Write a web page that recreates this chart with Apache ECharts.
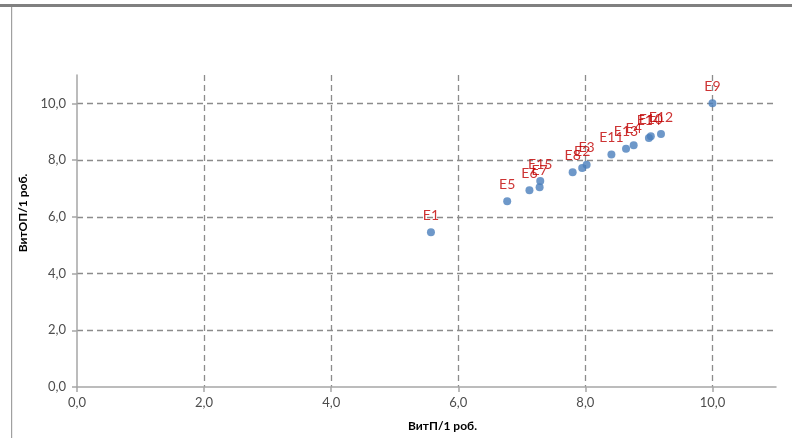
<!DOCTYPE html>
<html>
<head>
<meta charset="utf-8">
<script src="https://cdn.jsdelivr.net/npm/echarts@6/dist/echarts.min.js"></script>
<style>
html,body{margin:0;padding:0;background:#fff;}
#chart{width:792px;height:438px;}
</style>
</head>
<body>
<div id="chart"></div>
<script>
var names = ['E1','E2','E3','E4','E5','E6','E7','E8','E9','E10','E11','E12','E13','E14','E15'];
var xValues = [5.57, 7.95, 8.02, 8.76, 6.77, 7.12, 7.28, 7.80, 10.0, 9.03, 8.41, 9.19, 8.64, 9.00, 7.29];
var yValues = [5.46, 7.72, 7.84, 8.52, 6.55, 6.94, 7.04, 7.57, 10.0, 8.84, 8.20, 8.92, 8.40, 8.78, 7.26];
var xTicks = [0, 2, 4, 6, 8, 10];
var yTicks = [0, 2, 4, 6, 8, 10];
var xTitle = 'ВитП/1 роб.';
var yTitle = 'ВитОП/1 роб.';

var points = names.map(function (n, i) { return { name: n, value: [xValues[i], yValues[i]] }; });
var fmt = function (v) { return v.toFixed(1).replace('.', ','); };
var font = 'Lato, "Open Sans", sans-serif';
var gridLine = { show: true, showMinLine: false, lineStyle: { color: '#8c8c8c', type: [6, 4], width: 1.3 } };
var axisLineStyle = { show: true, lineStyle: { color: '#a6a6a6', width: 1.5 } };

var chart = echarts.init(document.getElementById('chart'), null, { renderer: 'canvas' });
chart.setOption({
  animation: false,
  backgroundColor: '#ffffff',
  grid: { left: 77, right: 16, top: 75, bottom: 51, containLabel: false },
  xAxis: {
    type: 'value', min: 0, max: 11, interval: 2,
    name: xTitle, nameLocation: 'middle', nameGap: 33,
    nameTextStyle: { fontFamily: font, fontSize: 12, fontWeight: 'bold', color: '#000', padding: [0, 0, 0, 32] },
    axisLine: axisLineStyle,
    axisTick: { show: true, length: 5, customValues: xTicks, lineStyle: { color: '#a6a6a6', width: 1.5 } },
    axisLabel: { customValues: xTicks, formatter: fmt, fontFamily: font, fontSize: 13, color: '#4d4d4d', margin: 9 },
    splitLine: gridLine
  },
  yAxis: {
    type: 'value', min: 0, max: 11, interval: 2,
    name: yTitle, nameLocation: 'middle', nameGap: 42,
    nameTextStyle: { fontFamily: font, fontSize: 12, fontWeight: 'bold', color: '#000', padding: [0, 0, 0, 36] },
    axisLine: axisLineStyle,
    axisTick: { show: true, length: 5, customValues: yTicks, lineStyle: { color: '#a6a6a6', width: 1.5 } },
    axisLabel: { customValues: yTicks, formatter: fmt, fontFamily: font, fontSize: 13, color: '#4d4d4d', margin: 11 },
    splitLine: gridLine
  },
  series: [{
    type: 'scatter',
    data: points,
    symbolSize: 8,
    itemStyle: { color: '#4a7ebb' },
    label: {
      show: true, position: 'top', distance: 6,
      formatter: function (p) { return p.name; },
      fontFamily: font, fontSize: 14, color: '#c00000'
    },
    labelLayout: { hideOverlap: false }
  }],
  graphic: [
    { type: 'rect', shape: { x: 0, y: 4, width: 792, height: 3 }, style: { fill: '#808080' }, silent: true },
    { type: 'rect', shape: { x: 11, y: 7, width: 1.2, height: 431 }, style: { fill: '#a0a0a0' }, silent: true }
  ]
});
</script>
</body>
</html>
